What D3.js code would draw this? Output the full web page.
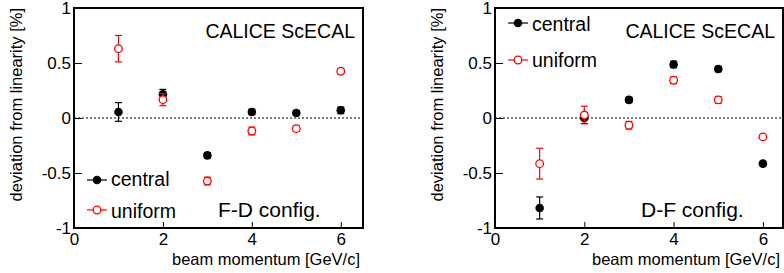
<!DOCTYPE html>
<html>
<head>
<meta charset="utf-8">
<script src="https://cdn.jsdelivr.net/npm/d3@7"></script>
<style>
  body { margin: 0; background: #fff; }
  svg { display: block; font-family: "Liberation Sans", Arial, sans-serif; }
</style>
</head>
<body>
<div id="chart"></div>
<script>
// beam momentum points
var momentum = [1, 2, 3, 4, 5, 6];

// F-D config (left)
var fdCentral = [0.055, 0.215, -0.34, 0.055, 0.045, 0.07];
var fdCentralErr = [0.085, 0.045, 0.025, 0.025, 0.02, 0.03];
var fdUniform = [0.63, 0.167, -0.573, -0.118, -0.097, 0.425];
var fdUniformErr = [0.12, 0.055, 0.035, 0.035, 0.025, 0.025];

// D-F config (right)
var dfCentral = [-0.818, 0.0, 0.165, 0.487, 0.445, -0.415];
var dfCentralErr = [0.1, 0.05, 0.025, 0.03, 0.025, 0.012];
var dfUniform = [-0.415, 0.027, -0.066, 0.343, 0.165, -0.172];
var dfUniformErr = [0.14, 0.08, 0.035, 0.03, 0.03, 0.012];

var xTicks = [0, 2, 4, 6];
var yTicks = [-1, -0.5, 0, 0.5, 1];

var W = 784, H = 273;
var svg = d3.select("#chart").append("svg")
  .attr("width", W).attr("height", H);

var panels = [
  { left: 74, right: 363, xmax: 6.5, central: fdCentral, centralErr: fdCentralErr,
    uniform: fdUniform, uniformErr: fdUniformErr, config: "F-D config.",
    configX: 218, yTitleX: 22, legendX: 97, legendY: [180, 210], legendDy: [6, 8] },
  { left: 495, right: 783, xmax: 6.45, central: dfCentral, centralErr: dfCentralErr,
    uniform: dfUniform, uniformErr: dfUniformErr, config: "D-F config.",
    configX: 641, yTitleX: 443, legendX: 518, legendY: [23, 60], legendDy: [8, 7] }
];

var plotTop = 8, plotBottom = 228;

panels.forEach(function (p) {
  var x = d3.scaleLinear().domain([0, p.xmax]).range([p.left, p.right]);
  var y = d3.scaleLinear().domain([-1, 1]).range([plotBottom, plotTop]);
  var g = svg.append("g");

  // zero line
  g.append("line")
    .attr("x1", p.left).attr("x2", p.right)
    .attr("y1", y(0)).attr("y2", y(0))
    .attr("stroke", "#000").attr("stroke-width", 1)
    .attr("stroke-dasharray", "2,2");

  // axes, ticks inside the frame
  var xAxis = g.append("g").attr("transform", "translate(0," + plotBottom + ")")
    .call(d3.axisBottom(x).tickValues(xTicks).tickSizeInner(-6).tickSizeOuter(0)
      .tickPadding(4).tickFormat(function (d) { return String(d); }));
  var yAxis = g.append("g").attr("transform", "translate(" + p.left + ",0)")
    .call(d3.axisLeft(y).tickValues(yTicks).tickSizeInner(-8).tickSizeOuter(0)
      .tickPadding(3).tickFormat(function (d) { return String(d); }));
  [xAxis, yAxis].forEach(function (a) {
    a.select(".domain").remove();
    a.selectAll("line").attr("stroke", "#000");
    a.selectAll("text").attr("font-size", 17).attr("fill", "#000")
      .attr("font-family", "Liberation Sans, Arial, sans-serif");
  });
  xAxis.selectAll("text").attr("dy", "0.74em");

  // frame
  g.append("rect")
    .attr("x", p.left).attr("y", plotTop)
    .attr("width", p.right - p.left).attr("height", plotBottom - plotTop)
    .attr("fill", "none").attr("stroke", "#000").attr("stroke-width", 2);

  // axis titles
  g.append("text")
    .attr("x", p.right - 3).attr("y", 265)
    .attr("text-anchor", "end").attr("font-size", 16.5)
    .text("beam momentum [GeV/c]");
  g.append("text")
    .attr("transform", "translate(" + p.yTitleX + "," + plotTop + ") rotate(-90)")
    .attr("text-anchor", "end").attr("font-size", 16.5)
    .text("deviation from linearity [%]");

  // labels
  g.append("text")
    .attr("x", p.left === 74 ? 355 : 775).attr("y", 38)
    .attr("text-anchor", "end").attr("font-size", 19.5)
    .text("CALICE ScECAL");
  g.append("text")
    .attr("x", p.configX).attr("y", 217)
    .attr("font-size", 21)
    .text(p.config);

  // series
  var series = [
    { vals: p.central, errs: p.centralErr, color: "#000", filled: true, name: "central" },
    { vals: p.uniform, errs: p.uniformErr, color: "#ff0000", filled: false, name: "uniform" }
  ];
  series.forEach(function (s, si) {
    var pts = g.append("g").selectAll("g")
      .data(momentum.map(function (m, i) { return { m: m, v: s.vals[i], e: s.errs[i] }; }))
      .enter().append("g");
    pts.append("line")
      .attr("x1", function (d) { return x(d.m); }).attr("x2", function (d) { return x(d.m); })
      .attr("y1", function (d) { return y(d.v + d.e); }).attr("y2", function (d) { return y(d.v - d.e); })
      .attr("stroke", s.color).attr("stroke-width", 1.2);
    [1, -1].forEach(function (sign) {
      pts.append("line")
        .attr("x1", function (d) { return x(d.m) - 3.5; }).attr("x2", function (d) { return x(d.m) + 3.5; })
        .attr("y1", function (d) { return y(d.v + sign * d.e); })
        .attr("y2", function (d) { return y(d.v + sign * d.e); })
        .attr("stroke", s.color).attr("stroke-width", 1.2);
    });
    pts.append("circle")
      .attr("cx", function (d) { return x(d.m); }).attr("cy", function (d) { return y(d.v); })
      .attr("r", s.filled ? 4.3 : 3.8)
      .attr("fill", s.filled ? s.color : "#fff")
      .attr("stroke", s.color).attr("stroke-width", s.filled ? 0 : 1.3);

    // legend entry
    var ly = p.legendY[si];
    g.append("line")
      .attr("x1", p.legendX - 10).attr("x2", p.legendX + 10)
      .attr("y1", ly).attr("y2", ly)
      .attr("stroke", s.color).attr("stroke-width", 1.2);
    g.append("circle")
      .attr("cx", p.legendX).attr("cy", ly)
      .attr("r", s.filled ? 4.3 : 3.8)
      .attr("fill", s.filled ? s.color : "#fff")
      .attr("stroke", s.color).attr("stroke-width", s.filled ? 0 : 1.3);
    g.append("text")
      .attr("x", p.legendX + 14).attr("y", ly + p.legendDy[si])
      .attr("font-size", 19.5)
      .text(s.name);
  });
});
</script>
</body>
</html>
